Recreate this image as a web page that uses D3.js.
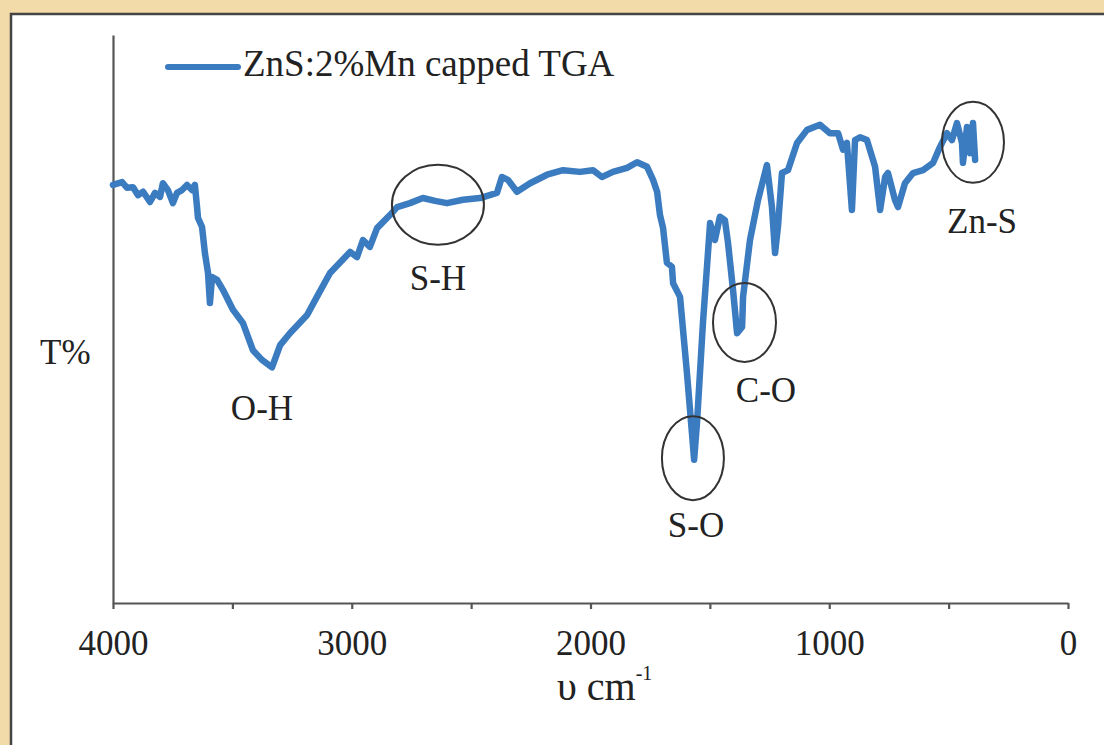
<!DOCTYPE html>
<html>
<head>
<meta charset="utf-8">
<script src="https://cdn.jsdelivr.net/npm/d3@7/dist/d3.min.js"></script>
<style>
  html, body { margin: 0; padding: 0; background: #f3daa9; }
  svg { display: block; }
  text { font-family: "Liberation Serif", "DejaVu Serif", serif; fill: #222; }
</style>
</head>
<body>
<svg id="chart" width="1104" height="745"></svg>
<script>
// ---- Data ----
const seriesName = "ZnS:2%Mn capped TGA";
const wavenumber = [4000,3962,3941,3916,3895,3874,3845,3824,3803,3791,3770,3749,3732,3711,3690,3669,3657,3648,3644,3627,3615,3602,3594,3585,3564,3539,3497,3456,3414,3376,3334,3300,3259,3187,3146,3091,3007,2978,2953,2924,2894,2840,2810,2756,2702,2651,2601,2534,2463,2392,2371,2346,2308,2253,2182,2115,2044,1990,1952,1906,1847,1805,1763,1738,1721,1709,1696,1680,1659,1654,1625,1596,1575,1566,1554,1529,1499,1479,1458,1437,1424,1403,1386,1365,1361,1332,1298,1261,1240,1227,1215,1198,1173,1135,1093,1039,997,963,942,926,905,892,871,842,808,787,766,754,725,712,683,649,607,565,536,507,486,465,444,440,423,410,398,389];
const transmittance = [73.6,74.1,73.1,73.2,71.8,72.4,70.6,72.2,71.5,73.9,72.7,70.4,72.2,72.7,73.6,72.7,73.6,69.7,67.8,66.2,61.6,58.1,52.8,57.4,56.9,55.1,51.6,49.3,44.5,42.8,41.5,45.4,47.5,50.7,53.9,58.1,61.8,60.9,63.9,62.7,66.0,68.3,69.7,70.4,71.3,70.8,70.4,71.0,71.3,72.2,75.0,74.5,72.4,73.9,75.4,76.2,75.9,76.2,75.0,75.9,76.6,77.6,76.8,74.5,72.4,68.3,66.0,59.9,59.2,56.3,53.9,40.5,29.9,25.2,31.7,49.3,66.9,63.9,68.0,67.4,63.4,55.1,47.5,48.6,53.9,63.9,71.0,77.1,69.7,61.6,66.2,75.7,76.2,81.0,83.3,84.2,82.7,82.7,79.8,81.0,69.2,81.5,82.0,81.5,76.8,69.2,75.0,75.7,71.0,69.7,73.9,75.7,76.2,77.5,80.3,82.7,81.5,84.5,81.0,77.5,83.8,79.2,84.5,78.0];
const xTicks = [4000,3500,3000,2500,2000,1500,1000,500,0];
const xTickLabels = ["4000","","3000","","2000","","1000","","0"];
const annotationLabels = ["O-H","S-H","S-O","C-O","Zn-S"];
const annotationWn = [3376,2639,1558,1265,360];
const annotationT = [32.2,55.1,11.6,35.4,65.1];
const circledLabels = ["S-H","S-O","C-O","Zn-S"];
const circleWn = [2639,1571,1355,398];
const circleT = [70.1,25.5,49.4,81.1];
const circleRx = [46,31,31.5,31];
const circleRy = [40,42,39.5,40.5];
const xTitle = "υ cm";
const xTitleSup = "-1";
const yTitle = "T%";

// ---- Layout ----
const svg = d3.select("#chart");
const W = 1104, H = 745;
const blue = "#3b7bc0";

// background panel
svg.append("rect").attr("x", 0).attr("y", 0).attr("width", W).attr("height", H).attr("fill", "#f3daa9");
svg.append("rect").attr("x", 11).attr("y", 14).attr("width", W).attr("height", H)
  .attr("fill", "#ffffff").attr("stroke", "#444").attr("stroke-width", 2.5);

const x = d3.scaleLinear().domain([4000, 0]).range([113, 1068]);
const y = d3.scaleLinear().domain([0, 100]).range([603, 35]);

// x axis
const xAxis = d3.axisBottom(x).tickValues(xTicks)
  .tickFormat((d, i) => xTickLabels[i]).tickSize(6).tickSizeOuter(0);
const gx = svg.append("g").attr("transform", `translate(0,${y(0)})`).call(xAxis);
gx.select(".domain").attr("stroke", "#555").attr("stroke-width", 2.2);
gx.selectAll(".tick line").attr("stroke", "#555").attr("stroke-width", 2.2);
gx.selectAll(".tick text").attr("y", 52).attr("dy", 0)
  .style("font-size", "35px").style("font-family", '"Liberation Serif", serif').attr("fill", "#222");

// y axis (no ticks)
const yAxis = d3.axisLeft(y).tickValues([]).tickSizeOuter(0);
const gy = svg.append("g").attr("transform", `translate(${x(4000)},0)`).call(yAxis);
gy.select(".domain").attr("stroke", "#555").attr("stroke-width", 2.2);

// axis titles
const xt = svg.append("text").attr("x", 557).attr("y", 700).style("font-size", "40px");
xt.append("tspan").text(xTitle);
xt.append("tspan").attr("dy", -20).style("font-size", "20px").text(xTitleSup);
svg.append("text").attr("x", 40).attr("y", 364).style("font-size", "35px").text(yTitle);

// spectrum line
const data = wavenumber.map((w, i) => ({ w, t: transmittance[i] }));
const line = d3.line().x(d => x(d.w)).y(d => y(d.t)).curve(d3.curveLinear);
svg.append("path").datum(data).attr("d", line)
  .attr("fill", "none").attr("stroke", blue).attr("stroke-width", 6.5)
  .attr("stroke-linejoin", "round").attr("stroke-linecap", "round");

// circles
svg.selectAll("ellipse.c").data(circledLabels).enter().append("ellipse")
  .attr("class", "c")
  .attr("cx", (d, i) => x(circleWn[i])).attr("cy", (d, i) => y(circleT[i]))
  .attr("rx", (d, i) => circleRx[i]).attr("ry", (d, i) => circleRy[i])
  .attr("fill", "none").attr("stroke", "#333").attr("stroke-width", 2);

// annotation labels
svg.selectAll("text.ann").data(annotationLabels).enter().append("text")
  .attr("class", "ann")
  .attr("x", (d, i) => x(annotationWn[i])).attr("y", (d, i) => y(annotationT[i]))
  .attr("text-anchor", "middle").style("font-size", "35px").text(d => d);

// legend
svg.append("line").attr("x1", 168).attr("x2", 238).attr("y1", 67).attr("y2", 67)
  .attr("stroke", blue).attr("stroke-width", 6).attr("stroke-linecap", "round");
svg.append("text").attr("x", 243).attr("y", 76).style("font-size", "37px").text(seriesName);
</script>
</body>
</html>
